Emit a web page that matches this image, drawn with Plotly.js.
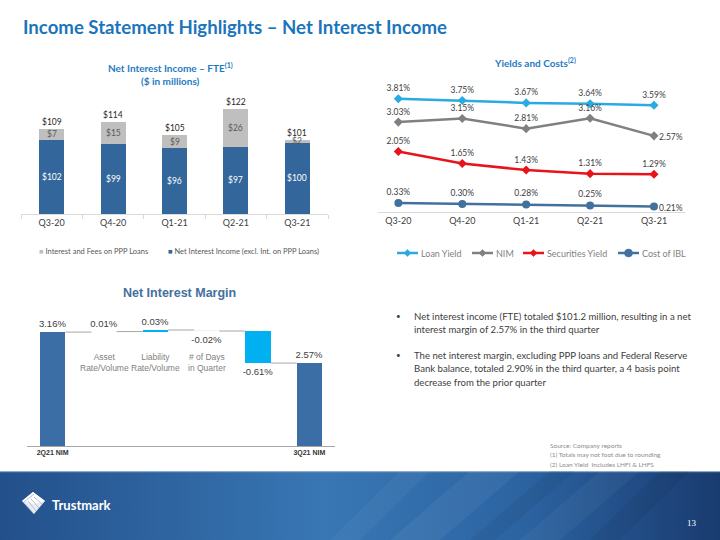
<!DOCTYPE html>
<html><head><meta charset="utf-8">
<script src="https://cdn.plot.ly/plotly-3.0.1.min.js"></script>
<style>html,body{margin:0;padding:0;background:#fff}#chart{width:720px;height:540px}</style>
</head><body><div id="chart"></div>
<script>
// ---------- DATA ----------
const nii_quarters = ['Q3-20', 'Q4-20', 'Q1-21', 'Q2-21', 'Q3-21'];
const nii_core = [102, 99, 96, 97, 100];          // Net Interest Income (excl. Int. on PPP Loans)
const nii_ppp = [7, 15, 9, 26, 2];                // Interest and Fees on PPP Loans
const nii_total_labels = [109, 114, 105, 122, 101];

const yc_quarters = ['Q3-20', 'Q4-20', 'Q1-21', 'Q2-21', 'Q3-21'];
const loan_yield = [3.81, 3.75, 3.67, 3.64, 3.59];
const nim = [3.03, 3.15, 2.81, 3.16, 2.57];
const securities_yield = [2.05, 1.65, 1.43, 1.31, 1.29];
const cost_ibl = [0.33, 0.30, 0.28, 0.25, 0.21];

const wf_categories = ['2Q21 NIM', 'Asset Rate/Volume', 'Liability Rate/Volume', '# of Days in Quarter', ' ', '3Q21 NIM'];
const wf_values = [3.16, 0.01, 0.03, -0.02, -0.61, 2.57];
const wf_is_total = [true, false, false, false, false, true];
const wf_inner_labels = ['', 'Asset<br>Rate/Volume', 'Liability<br>Rate/Volume', '# of Days<br>in Quarter', '', ''];

// ---------- HELPERS ----------
const W = 720, H = 540;
const px = v => v / W;
const py = v => 1 - v / H;
const fontC = 'Lato, "Open Sans", sans-serif';
const fontA = '"Liberation Sans", Arial, sans-serif';
const pct = v => v.toFixed(2) + '%';

const traces = [];
const annotations = [];
const shapes = [];

// ---------- CHART 1: Net Interest Income ----------
const y1min = 51.7, y1max = 130.1;
traces.push({
  type: 'bar', x: nii_quarters, y: nii_core, xaxis: 'x', yaxis: 'y',
  name: 'Net Interest Income (excl. Int. on PPP Loans)',
  marker: {color: '#33679b'}, width: 0.41, showlegend: false, hoverinfo: 'skip'
});
traces.push({
  type: 'bar', x: nii_quarters, y: nii_ppp, xaxis: 'x', yaxis: 'y',
  name: 'Interest and Fees on PPP Loans',
  marker: {color: '#bfbfbf'}, width: 0.41, showlegend: false, hoverinfo: 'skip'
});
nii_quarters.forEach((q, i) => {
  annotations.push({xref: 'x', yref: 'y', x: q, y: (y1min + nii_core[i]) / 2, text: '$' + nii_core[i],
    showarrow: false, font: {family: fontC, size: 8.5, color: '#ffffff'}});
  annotations.push({xref: 'x', yref: 'y', x: q, y: nii_core[i] + nii_ppp[i] / 2, text: '$' + nii_ppp[i],
    showarrow: false, font: {family: fontC, size: 8.5, color: '#595959'}});
  annotations.push({xref: 'x', yref: 'y', x: q, y: nii_core[i] + nii_ppp[i], text: '$' + nii_total_labels[i],
    showarrow: false, yanchor: 'bottom', yshift: 0, font: {family: fontC, size: 8.5, color: '#262626'}});
});

// ---------- CHART 2: Yields and Costs ----------
const lineSeries = [
  {name: 'Loan Yield', y: loan_yield, color: '#29abe2', symbol: 'diamond', size: 7, leaderLast: false},
  {name: 'NIM', y: nim, color: '#808080', symbol: 'diamond', size: 7, leaderLast: true},
  {name: 'Securities Yield', y: securities_yield, color: '#e8141b', symbol: 'diamond', size: 7, leaderLast: false},
  {name: 'Cost of IBL', y: cost_ibl, color: '#41719c', symbol: 'circle', size: 8, leaderLast: true}
];
lineSeries.forEach(s => {
  const last = s.y.length - 1;
  traces.push({
    type: 'scatter', mode: 'lines+markers+text', x: yc_quarters, y: s.y, xaxis: 'x2', yaxis: 'y2',
    name: s.name, line: {color: s.color, width: 2.5}, marker: {color: s.color, symbol: s.symbol, size: s.size},
    text: s.y.map((v, i) => (s.leaderLast && i === last) ? '' : pct(v)), textposition: 'top center',
    textfont: {family: fontC, size: 8.5, color: '#404040'},
    cliponaxis: false, showlegend: false, hoverinfo: 'skip'
  });
  if (s.leaderLast) {
    annotations.push({xref: 'x2', yref: 'y2', x: yc_quarters[last], y: s.y[last], text: pct(s.y[last]),
      showarrow: true, arrowhead: 0, arrowwidth: 0.6, arrowcolor: '#a6a6a6', ax: 17, ay: 1, standoff: 3,
      font: {family: fontC, size: 8.5, color: '#404040'}});
  }
});

// ---------- CHART 3: Net Interest Margin waterfall ----------
const wf_base = [], wf_level = [];
let running = 0;
wf_values.forEach((v, i) => {
  if (wf_is_total[i]) { wf_base.push(0); running = v; }
  else { wf_base.push(running); running += v; }
  wf_level.push(running);
});
const wf_colors = ['#3a6ea5', '#e8e8e8', '#00b0f0', '#f2f2f2', '#00b0f0', '#3a6ea5'];
traces.push({
  type: 'bar', x: wf_categories, y: wf_values, base: wf_base, xaxis: 'x3', yaxis: 'y3',
  marker: {color: wf_colors}, width: 0.49, showlegend: false, hoverinfo: 'skip',
  text: wf_values.map(pct), textposition: 'outside', constraintext: 'none', cliponaxis: false,
  outsidetextfont: {family: fontA, size: 9.5, color: '#404040'}
});
for (let i = 0; i < wf_values.length - 1; i++) {
  shapes.push({type: 'line', xref: 'x3', yref: 'y3', x0: i + 0.245, x1: i + 1 - 0.245,
    y0: wf_level[i], y1: wf_level[i], line: {color: '#a6a6a6', width: 1}});
}
wf_categories.forEach((c, i) => {
  if (wf_inner_labels[i]) annotations.push({xref: 'x3', yref: 'paper', x: c, y: py(362), text: wf_inner_labels[i],
    showarrow: false, font: {family: fontA, size: 8.5, color: '#7f7f7f'}});
});

// ---------- TEXT / DECORATION ----------
annotations.push({xref: 'paper', yref: 'paper', x: px(21), y: py(27), xanchor: 'left', showarrow: false,
  text: '<b>Income Statement Highlights – Net Interest Income</b>', font: {family: fontC, size: 18.6, color: '#1b75bb'}});
annotations.push({xref: 'paper', yref: 'paper', x: px(170), y: py(67), showarrow: false,
  text: '<b>Net Interest Income – FTE<sup>(1)</sup></b>', font: {family: fontC, size: 10, color: '#1f7bc1'}});
annotations.push({xref: 'paper', yref: 'paper', x: px(170), y: py(81), showarrow: false,
  text: '<b>($ in millions)</b>', font: {family: fontC, size: 10, color: '#1f7bc1'}});
annotations.push({xref: 'paper', yref: 'paper', x: px(535), y: py(62), showarrow: false,
  text: '<b>Yields and Costs<sup>(2)</sup></b>', font: {family: fontC, size: 10, color: '#1f7bc1'}});
annotations.push({xref: 'paper', yref: 'paper', x: px(179), y: py(293), showarrow: false,
  text: '<b>Net Interest Margin</b>', font: {family: fontA, size: 12.5, color: '#44709d'}});

// legend chart 1
annotations.push({xref: 'paper', yref: 'paper', x: px(37), y: py(251), xanchor: 'left', showarrow: false,
  text: '<span style="color:#bfbfbf">■</span> Interest and Fees on PPP Loans', font: {family: fontC, size: 7.5, color: '#595959'}});
annotations.push({xref: 'paper', yref: 'paper', x: px(166), y: py(251), xanchor: 'left', showarrow: false,
  text: '<span style="color:#33679b">■</span> Net Interest Income (excl. Int. on PPP Loans)', font: {family: fontC, size: 7.5, color: '#595959'}});

// legend chart 2
const legY = 253;
const legStarts = [397, 472, 523, 618];
lineSeries.forEach((s, i) => {
  const x0 = legStarts[i], x1 = x0 + 21, cx = (x0 + x1) / 2;
  shapes.push({type: 'line', xref: 'paper', yref: 'paper', x0: px(x0), x1: px(x1), y0: py(legY), y1: py(legY),
    line: {color: s.color, width: 2.5}});
  if (s.symbol === 'diamond') {
    const d = 3.5;
    shapes.push({type: 'path', xref: 'paper', yref: 'paper', fillcolor: s.color, line: {color: s.color, width: 0.5},
      path: `M${px(cx - d)},${py(legY)} L${px(cx)},${py(legY - d)} L${px(cx + d)},${py(legY)} L${px(cx)},${py(legY + d)} Z`});
  } else {
    const r = 4;
    shapes.push({type: 'circle', xref: 'paper', yref: 'paper', fillcolor: s.color, line: {color: s.color, width: 0.5},
      x0: px(cx - r), x1: px(cx + r), y0: py(legY - r), y1: py(legY + r)});
  }
  annotations.push({xref: 'paper', yref: 'paper', x: px(x1 + 1), y: py(legY), xanchor: 'left', showarrow: false,
    text: s.name, font: {family: fontC, size: 9, color: '#7f7f7f'}});
});

// bullets
const bullets = [
  {y: 316, lines: ['Net interest income (FTE) totaled $101.2 million, resulting in a net', 'interest margin of 2.57% in the third quarter']},
  {y: 355, lines: ['The net interest margin, excluding PPP loans and Federal Reserve', 'Bank balance, totaled 2.90% in the third quarter, a 4 basis point', 'decrease from the prior quarter']}
];
bullets.forEach(b => {
  annotations.push({xref: 'paper', yref: 'paper', x: px(398), y: py(b.y), xanchor: 'center', showarrow: false,
    text: '•', font: {family: fontC, size: 8, color: '#404040'}});
  b.lines.forEach((t, j) => annotations.push({xref: 'paper', yref: 'paper', x: px(412), y: py(b.y + j * 13.5),
    xanchor: 'left', showarrow: false, text: t, font: {family: fontC, size: 9.6, color: '#404040'}}));
});

// source notes
['Source: Company reports', '(1) Totals may not foot due to rounding', '(2) Loan Yield  Includes LHFI & LHFS'].forEach((t, j) =>
  annotations.push({xref: 'paper', yref: 'paper', x: px(548), y: py(445 + j * 9.5), xanchor: 'left', showarrow: false,
    text: t, font: {family: fontC, size: 6.5, color: '#8c8c8c'}}));

// footer text
annotations.push({xref: 'paper', yref: 'paper', x: px(50), y: py(505), xanchor: 'left', showarrow: false,
  text: '<b>Trustmark</b>', font: {family: fontC, size: 13, color: '#ffffff'}});
annotations.push({xref: 'paper', yref: 'paper', x: px(692), y: py(523), showarrow: false,
  text: '13', font: {family: '"Liberation Serif", serif', size: 9, color: '#ffffff'}});

annotations.forEach(a => { a.xanchor = a.xanchor || 'center'; a.yanchor = a.yanchor || 'middle'; });

// footer band
const footerSvg = `<svg xmlns='http://www.w3.org/2000/svg' width='720' height='69' viewBox='0 0 720 69' preserveAspectRatio='none'>
<defs><linearGradient id='g' x1='0' x2='1' y1='0' y2='0'>
<stop offset='0' stop-color='#23508b'/><stop offset='0.45' stop-color='#3877b4'/><stop offset='0.72' stop-color='#2c64a2'/><stop offset='1' stop-color='#193b70'/></linearGradient></defs>
<rect width='720' height='69' fill='url(#g)'/>
<rect width='720' height='1.2' fill='#8ea8c8'/>
<polygon points='330,69 400,0 430,0 360,69' fill='#ffffff' fill-opacity='0.04'/>
<polygon points='390,69 470,0 520,0 440,69' fill='#ffffff' fill-opacity='0.05'/>
<polygon points='470,69 550,0 575,0 495,69' fill='#000000' fill-opacity='0.05'/>
<polygon points='520,69 600,0 640,0 560,69' fill='#ffffff' fill-opacity='0.04'/>
<polygon points='590,69 660,0 690,0 620,69' fill='#000000' fill-opacity='0.05'/>
<g transform='translate(22,21)'>
<polygon points='11,0 23,9 12,22 0,9' fill='#e9eef5'/>
<polygon points='11,0 23,9 12,12 0,9' fill='#ffffff'/>
<path d='M3,12 L12,22 M6,9 L14,19 M9,7 L17,16 M12,5 L20,12 M2,10 L12,2' stroke='#9fb3cc' stroke-width='0.8'/>
</g>
</svg>`;

const layout = {
  width: W, height: H, margin: {l: 0, r: 0, t: 0, b: 0},
  paper_bgcolor: '#ffffff', plot_bgcolor: 'rgba(0,0,0,0)',
  barmode: 'stack', showlegend: false,
  xaxis: {domain: [px(21), px(328)], anchor: 'y', type: 'category', showline: true, linecolor: '#d9d9d9', linewidth: 1,
    ticks: 'outside', tickson: 'boundaries', ticklen: 4, tickcolor: '#d9d9d9', showgrid: false, zeroline: false,
    tickfont: {family: fontC, size: 9, color: '#404040'}, fixedrange: true},
  yaxis: {domain: [py(214), py(98)], anchor: 'x', range: [y1min, y1max], visible: false, fixedrange: true},
  xaxis2: {domain: [px(378), px(685)], anchor: 'y2', type: 'category', showline: true, linecolor: '#d9d9d9', linewidth: 1,
    ticks: '', showgrid: false, zeroline: false, tickfont: {family: fontC, size: 9, color: '#404040'}, fixedrange: true},
  yaxis2: {domain: [py(212), py(93)], anchor: 'x2', range: [0.03, 4.0], visible: false, fixedrange: true},
  xaxis3: {domain: [px(27), px(335)], anchor: 'y3', type: 'category', showline: true, linecolor: '#a6a6a6', linewidth: 1,
    ticks: '', showgrid: false, zeroline: false, tickvals: [wf_categories[0], wf_categories[5]],
    ticktext: ['<b>' + wf_categories[0] + '</b>', '<b>' + wf_categories[5] + '</b>'],
    tickfont: {family: fontA, size: 7, color: '#333333'}, fixedrange: true},
  yaxis3: {domain: [py(446), py(300)], anchor: 'x3', range: [0.99, 3.771], visible: false, fixedrange: true},
  annotations: annotations,
  shapes: shapes,
  images: [{source: 'data:image/svg+xml;charset=utf-8,' + encodeURIComponent(footerSvg), xref: 'paper', yref: 'paper',
    x: 0, y: py(471), sizex: 1, sizey: 69 / H, xanchor: 'left', yanchor: 'top', sizing: 'stretch', layer: 'below'}]
};

Plotly.newPlot('chart', traces, layout, {displayModeBar: false, staticPlot: true});
</script>
</body></html>
